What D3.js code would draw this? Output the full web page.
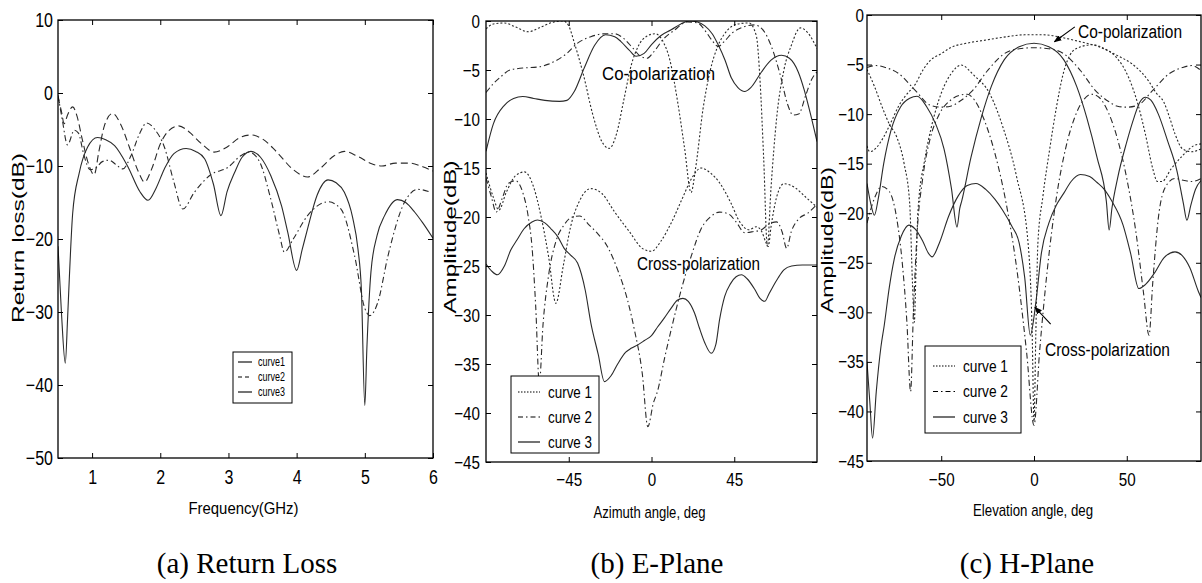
<!DOCTYPE html>
<html>
<head>
<meta charset="utf-8">
<script src="https://cdn.jsdelivr.net/npm/d3@7"></script>
<style>
body { margin: 0; background: #fff; }
text { font-family: "Liberation Sans", Arial, sans-serif; fill: #000; }
text.cap { font-family: "Liberation Serif", "Times New Roman", Tinos, serif; }
</style>
</head>
<body>
<svg id="fig" width="1202" height="583"></svg>
<script>
// ---- (a) Return loss : [GHz, dB]
var rlDash = [[0.5,-0.5],[0.55,-2.5],[0.59,-4.2],[0.64,-3],[0.715,-1.9],[0.78,-3.2],[0.85,-6.1],[0.94,-9.5],[1.03,-11.2],[1.1,-8],[1.18,-4.5],[1.3,-2.8],[1.42,-4.3],[1.55,-7.5],[1.68,-10.8],[1.77,-12.2],[1.87,-10.5],[2.0,-7],[2.12,-5.2],[2.27,-4.5],[2.42,-5.3],[2.6,-6.9],[2.79,-8.1],[2.98,-7.4],[3.15,-6.2],[3.33,-5.75],[3.5,-6.3],[3.7,-8],[3.95,-10.5],[4.16,-11.5],[4.35,-10.3],[4.55,-8.6],[4.7,-8],[4.9,-8.7],[5.1,-9.7],[5.25,-10],[5.45,-9.6],[5.65,-9.6],[5.85,-10.1],[6,-10.7]];
var rlDashDot = [[0.5,-0.3],[0.56,-3.5],[0.64,-7.1],[0.74,-5.1],[0.8,-5.5],[0.88,-8.5],[0.97,-10.5],[1.05,-10.3],[1.15,-9.4],[1.25,-9.2],[1.35,-9.8],[1.45,-10.4],[1.57,-8.6],[1.7,-5.5],[1.8,-4.1],[1.92,-5],[2.06,-7.4],[2.2,-12.2],[2.33,-15.9],[2.5,-13.6],[2.74,-11.2],[2.99,-10.2],[3.18,-8.6],[3.3,-8.1],[3.45,-9.3],[3.62,-14.5],[3.75,-19.5],[3.82,-21.8],[3.95,-20],[4.16,-16.8],[4.46,-14.9],[4.65,-15.9],[4.85,-22.3],[5.0,-29.5],[5.07,-30.5],[5.19,-28.7],[5.34,-22.3],[5.58,-15],[5.78,-13.2],[5.97,-13.6]];
var rlSolid = [[0.5,-21],[0.55,-30],[0.607,-37],[0.64,-31],[0.665,-25.6],[0.715,-16.5],[0.81,-11],[0.935,-7.4],[1.08,-6.1],[1.2,-6.4],[1.33,-7.2],[1.52,-10],[1.7,-13.5],[1.82,-14.7],[1.94,-13],[2.06,-10.4],[2.2,-8.3],[2.38,-7.6],[2.52,-8],[2.65,-9],[2.78,-12.5],[2.89,-16.8],[2.98,-13.5],[3.09,-10.9],[3.2,-8.8],[3.33,-8],[3.47,-8.8],[3.62,-11.3],[3.78,-15.5],[3.87,-19.1],[4.0,-24.3],[4.08,-21.5],[4.16,-18.6],[4.3,-14],[4.46,-11.9],[4.58,-12.3],[4.7,-13.6],[4.82,-17],[4.9,-21.4],[4.95,-27],[5.0,-42.8],[5.03,-35],[5.09,-24.5],[5.18,-19.5],[5.29,-16.8],[5.48,-14.6],[5.6,-15],[5.73,-16.3],[5.85,-17.8],[6,-19.9]];

// ---- (b) E-plane : [deg, dB]
var eCo1 = [[-90,-0.8],[-86,-0.3],[-80,-0.2],[-74,-0.6],[-67,-1.1],[-60,-0.6],[-53,-0.1],[-48,0],[-45,-0.5],[-42,-2.2],[-37,-5.5],[-32,-9.5],[-27,-12.3],[-23,-13],[-19,-11.5],[-15,-8],[-11,-4.5],[-7,-2.5],[-3,-1.6],[2,-1.3],[6,-2],[10,-4],[14,-8],[18,-13],[21.5,-17.5],[24,-15],[28,-9],[32,-5],[36,-2.6],[41,-1],[47,-0.3],[53,-0.2],[57,-1.5],[59,-6],[61,-14],[63,-23],[65,-17],[68,-10],[72,-5],[76,-2.5],[81,-0.7],[85,-1.2],[90,-2.8]];
var eCo2 = [[-90,-7.3],[-86,-6.4],[-82,-5.7],[-77,-5],[-70,-4.8],[-62,-4.7],[-56,-4.4],[-51.5,-4],[-46,-3.3],[-40.5,-2.3],[-33,-1.6],[-25,-1.3],[-20,-1.3],[-15,-1.8],[-10,-2.8],[-6,-3.6],[-2.5,-3.8],[1,-3.2],[6.7,-1.8],[12,-1],[19.5,-0.1],[25,-0.2],[30,-1.2],[33,-2],[36.2,-2.6],[40,-2],[44,-1.2],[50,-0.6],[56,-0.4],[61,-1],[65,-2.5],[70,-5.5],[74,-8.5],[77,-9.6],[80,-9.5],[84,-7.5],[87,-6],[90,-5.2]];
var eCo3 = [[-90,-13.3],[-86,-10.5],[-80,-8.6],[-75,-7.9],[-70,-7.7],[-64,-7.9],[-58,-8.1],[-50,-8.2],[-46,-8.1],[-42,-7.2],[-36.6,-4.8],[-31,-2.5],[-25,-1.4],[-20,-1.6],[-16.6,-2.1],[-12,-3],[-8.4,-3.6],[-4,-3.3],[0,-2.4],[5,-1.5],[10.7,-0.9],[16,-0.3],[20.7,0],[25,-0.1],[29,-0.5],[33,-1.3],[36.2,-2.4],[40,-4],[43.4,-5.8],[47,-6.8],[50.7,-7.2],[54,-6.8],[59.8,-5.2],[65,-4],[70.7,-3.5],[75,-3.8],[79.8,-5.2],[83,-7],[86.2,-9.3],[90,-12.3]];
var eX1 = [[-90,-15.5],[-86,-18],[-83,-19.3],[-79,-17.5],[-74,-15.8],[-69,-15.4],[-64,-17],[-60,-20],[-56,-24],[-52,-28.8],[-48,-25],[-44,-21],[-39,-18.3],[-33,-17.1],[-27,-17.6],[-20,-19.5],[-12,-21.5],[-5,-23.2],[0,-23.5],[5,-22.5],[11,-20.5],[17,-18],[22,-16],[27,-15],[32,-15.5],[37,-16.5],[43,-18.5],[48,-20.5],[53,-21.3],[57,-21],[60,-21.5],[62,-22.5],[63.5,-23],[65,-21],[68,-18],[72,-16.6],[78,-17],[84,-18],[90,-19]];
var eX2 = [[-90,-16],[-87,-18],[-84.5,-19.5],[-81,-18],[-78,-16.6],[-74,-16.3],[-70,-17.5],[-67,-20],[-65,-23],[-63,-29],[-61,-37],[-59,-31],[-56,-26],[-52,-22.5],[-47.5,-20.8],[-43,-20],[-39,-19.9],[-34,-20.8],[-29.3,-21.7],[-24,-23],[-18.4,-25.4],[-13,-28.5],[-9.3,-31.5],[-5,-36],[-2,-41.4],[1,-39],[3.4,-37.7],[7,-34.5],[10.7,-31.5],[16.2,-27.4],[21.6,-24],[27,-21.2],[32,-20],[37,-19.5],[42,-19.7],[46,-20.5],[50.7,-21.6],[55,-21.5],[59.8,-21.3],[64,-20.7],[68,-20.5],[71,-21.5],[73.5,-23.2],[76,-21.5],[80,-20.2],[85,-19.6],[90,-18.7]];
var eX3 = [[-90,-24.8],[-87,-25.5],[-83.8,-25.9],[-80,-25],[-76.6,-23.4],[-73,-22.3],[-69.3,-21.2],[-65,-20.5],[-62,-20.3],[-58,-20.6],[-54.7,-21.2],[-51,-22],[-47.5,-23.2],[-44,-23.9],[-40.2,-24.7],[-36,-27.5],[-33,-30.8],[-29,-34],[-25.6,-36.8],[-22,-36.2],[-18.4,-35],[-14,-33.8],[-11.1,-33.4],[-7,-33],[-3.8,-32.6],[0,-32.1],[3.4,-31.2],[7,-30.3],[10.7,-29.3],[14,-28.5],[17.1,-28.3],[20,-28.6],[23.4,-29.8],[26,-31.3],[28.9,-32.8],[32.5,-33.9],[35,-33],[37,-30.5],[39.8,-28.1],[43,-26.8],[46,-26.1],[48.9,-25.9],[52,-26.3],[56.2,-27.4],[59,-28.3],[61.6,-28.6],[64,-27.8],[68.9,-26.2],[72,-25.4],[76.2,-25],[82,-24.9],[90,-24.9]];

// ---- (c) H-plane : [deg, dB]
var hCo1 = [[-90,-13.2],[-88.5,-13.8],[-85,-13.4],[-81,-12.3],[-77,-10.8],[-73,-9.2],[-69,-8.1],[-64,-7],[-60,-5.6],[-56,-4.6],[-50,-3.9],[-45,-3.3],[-35,-2.8],[-25,-2.5],[-15,-2.2],[-5,-2.0],[5,-2.0],[17,-2.35],[25,-2.7],[35,-3.2],[45,-4.1],[52.6,-4.9],[58,-5.8],[61.5,-6.6],[66,-7.9],[70,-8.8],[73,-10.3],[76,-12],[80,-13.5],[85,-13.8],[90,-13.5]];
var hCo2 = [[-90,-5.3],[-85,-5.1],[-80,-5.3],[-73,-5.9],[-64,-7.6],[-56,-9.1],[-50,-9.3],[-45,-9.2],[-40,-8.7],[-33,-7.6],[-25,-5.6],[-16,-3.9],[-8,-3.4],[0,-3.3],[8,-3.4],[16,-3.9],[25,-5.6],[33,-7.6],[40,-8.7],[45,-9.2],[50,-9.3],[56,-9.1],[64,-7.6],[73,-5.9],[80,-5.3],[85,-5.1],[90,-5.6]];
var hCo3 = [[-90,-17],[-88,-19],[-86,-20.2],[-84,-18.6],[-81,-15],[-77,-11.6],[-72,-9.3],[-67,-8.4],[-63,-8.2],[-58,-9.2],[-53,-11],[-48.5,-13.5],[-44.5,-17.5],[-41.5,-21.4],[-40,-19.5],[-39,-18.8],[-34,-14.4],[-28.5,-10.4],[-23,-7.2],[-16,-4.5],[-8,-3.2],[0,-2.85],[8,-3.2],[16,-4.5],[23,-7.2],[28.5,-10.4],[34,-14.4],[39,-18.8],[40.5,-21.7],[42,-19.5],[45,-16.5],[50,-12.8],[54,-10.3],[57,-8.8],[60.1,-8.3],[63,-8.6],[67,-10],[72,-12.7],[77,-15.7],[80.5,-19],[82.4,-20.7],[84.5,-19.2],[87,-17.6],[90,-16.7]];
var hX1 = [[-90,-5.5],[-86,-7.2],[-82,-9.2],[-78,-11],[-74,-12.3],[-70,-15],[-67,-19],[-65.5,-27],[-64.5,-31],[-63.5,-25],[-62.5,-19.7],[-58.9,-14.6],[-55.3,-11.3],[-50,-7.9],[-44.6,-5.9],[-39.2,-5.05],[-32.6,-6.05],[-23.7,-8],[-16.6,-11.4],[-9.4,-16.3],[-3.2,-23],[-1,-32],[0,-41],[1,-32],[2.1,-23],[4.8,-18.3],[8.4,-13.6],[12,-9.4],[15.5,-6.1],[22.6,-3.4],[31.5,-3],[38,-3.4],[44,-4.2],[51,-6.3],[56,-9],[60,-12],[64,-15.5],[66.5,-16.8],[69,-16.8],[74,-15.5],[80,-14.2],[86,-13.2],[90,-13]];
var hX2 = [[-90,-21],[-86,-18.5],[-82,-17.3],[-78,-17.8],[-74,-20.5],[-71,-25],[-68.5,-31],[-66.5,-38],[-65,-30],[-63,-22],[-60,-16.5],[-56,-12.5],[-51,-10],[-45,-8.6],[-40,-8.1],[-36,-8],[-32,-8.6],[-27,-10.5],[-21,-14],[-15,-19],[-9,-26],[-4,-34],[0,-41.4],[3,-34],[7,-26],[12,-18.5],[17,-13.5],[22,-10.3],[27,-8.5],[31,-8],[35,-8.3],[40,-9.8],[45,-12.5],[50,-16.5],[55,-22],[59,-28],[62,-32.3],[64,-27],[67,-20.5],[71,-17.3],[76,-16.5],[81,-16.7],[85,-16.8],[90,-16.5]];
var hX3 = [[-90,-35],[-88.5,-39],[-87,-42.7],[-85,-38],[-82.5,-33.5],[-80.7,-31.3],[-78,-27.5],[-75.3,-24.6],[-71.5,-22.3],[-67.5,-21.2],[-64,-21.6],[-60,-22.8],[-57,-24],[-54.9,-24.4],[-51,-23],[-46,-20.3],[-41,-18.3],[-36,-17.2],[-31.3,-17],[-26,-17.6],[-21,-18.6],[-16.9,-19.7],[-12,-21.3],[-8,-23],[-5,-26.5],[-2,-32.3],[1,-29],[4,-24],[8,-21],[12,-19.2],[16,-18],[20,-16.8],[25,-16.1],[30,-16.3],[34,-16.9],[37.4,-17.5],[42,-18.8],[48,-21.2],[52,-24],[56.5,-27.6],[60,-27.2],[65.4,-25.9],[70,-24.5],[76,-23.9],[80,-24.3],[84,-25.5],[88.6,-27.9],[90,-28.5]];

// ---- ticks / labels
var rlXTicks = [1, 2, 3, 4, 5, 6];
var rlYTicks = [10, 0, -10, -20, -30, -40, -50];
var eXTicks = [-45, 0, 45];
var hXTicks = [-50, 0, 50];
var ampYTicks = [0, -5, -10, -15, -20, -25, -30, -35, -40, -45];
var rlLegend = ["curve1", "curve2", "curve3"];
var patLegend = ["curve 1", "curve 2", "curve 3"];

var DOT = "2,2", DASHDOT = "6,3,1.5,3", DASH = "7,4";

var svg = d3.select("#fig");

// matlab-ish narrow lettering: squeeze each label by a factor
function condense(sel, k) {
  sel.each(function() {
    var w = this.getComputedTextLength();
    d3.select(this).attr("textLength", w * k).attr("lengthAdjust", "spacingAndGlyphs");
  });
}

function drawPanel(p) {
  var x = d3.scaleLinear().domain(p.xDom).range([p.left, p.right]);
  var y = d3.scaleLinear().domain(p.yDom).range([p.bottom, p.top]);
  var g = svg.append("g");

  g.append("clipPath").attr("id", "clip" + p.id)
    .append("rect").attr("x", p.left).attr("y", p.top)
    .attr("width", p.right - p.left).attr("height", p.bottom - p.top);

  var line = d3.line().x(d => x(d[0])).y(d => y(d[1])).curve(d3.curveMonotoneX);

  var curves = g.append("g").attr("clip-path", "url(#clip" + p.id + ")");
  p.series.forEach(function(s) {
    curves.append("path").datum(s.data)
      .attr("d", line)
      .attr("fill", "none")
      .attr("stroke", "#2a2a2a")
      .attr("stroke-width", 1.1)
      .attr("stroke-dasharray", s.dash);
  });

  // axes: labels outside, ticks inward on all four sides (matlab box)
  var fmt = d3.format("d");
  var bottomAxis = d3.axisBottom(x).tickValues(p.xTicks).tickSize(-5).tickPadding(p.xPad).tickFormat(fmt);
  var leftAxis = d3.axisLeft(y).tickValues(p.yTicks).tickSize(-5).tickPadding(p.yPad).tickFormat(fmt);
  var topAxis = d3.axisTop(x).tickValues(p.xTicks).tickSize(-5).tickFormat("");
  var rightAxis = d3.axisRight(y).tickValues(p.yTicks).tickSize(-5).tickFormat("");

  var ax = [
    g.append("g").attr("transform", `translate(0,${p.bottom})`).call(bottomAxis),
    g.append("g").attr("transform", `translate(${p.left},0)`).call(leftAxis),
    g.append("g").attr("transform", `translate(0,${p.top})`).call(topAxis),
    g.append("g").attr("transform", `translate(${p.right},0)`).call(rightAxis)
  ];
  ax.forEach(function(a) {
    a.select(".domain").remove();
    a.selectAll("line").attr("stroke", "#000");
    a.selectAll("text").attr("font-family", null)
      .style("font-family", '"Liberation Sans", Arial, sans-serif')
      .style("font-size", p.tickFont + "px");
  });
  ax[0].selectAll("text").attr("dy", "0.71em");
  condense(ax[0].selectAll("text"), 0.8);
  condense(ax[1].selectAll("text"), 0.8);

  g.append("rect").attr("x", p.left).attr("y", p.top)
    .attr("width", p.right - p.left).attr("height", p.bottom - p.top)
    .attr("fill", "none").attr("stroke", "#000").attr("stroke-width", 1.3);

  // axis titles
  g.append("text").attr("x", (p.left + p.right) / 2 + p.xLabDx).attr("y", p.xLabY)
    .attr("text-anchor", "middle").style("font-size", "17px")
    .attr("textLength", p.xLabLen).attr("lengthAdjust", "spacingAndGlyphs")
    .text(p.xLabel);
  g.append("text")
    .attr("transform", `translate(${p.yLabX},${p.yLabY}) rotate(-90)`)
    .attr("text-anchor", "middle").style("font-size", "17px")
    .attr("textLength", p.yLabLen).attr("lengthAdjust", "spacingAndGlyphs")
    .text(p.yLabel);

  // caption (times, natural width)
  svg.append("text").attr("class", "cap")
    .attr("x", p.capX).attr("y", 573).attr("text-anchor", "middle")
    .style("font-size", "29px")
    .text(p.caption);

  // legend
  var L = p.legend;
  var lg = g.append("g");
  lg.append("rect").attr("x", L.x).attr("y", L.y).attr("width", L.w).attr("height", L.h)
    .attr("fill", "#fff").attr("stroke", "#000").attr("stroke-width", 1);
  L.names.forEach(function(n, i) {
    var yy = L.y + L.first + i * L.step;
    lg.append("line").attr("x1", L.x + L.l0).attr("x2", L.x + L.l1)
      .attr("y1", yy).attr("y2", yy)
      .attr("stroke", "#000").attr("stroke-width", 1.1)
      .attr("stroke-dasharray", L.dashes[i]);
    lg.append("text").attr("x", L.x + L.tx).attr("y", yy).attr("dy", "0.35em")
      .style("font-size", L.font + "px")
      .attr("textLength", L.tLen).attr("lengthAdjust", "spacingAndGlyphs")
      .text(n);
  });

  return { x: x, y: y, g: g };
}

var pa = drawPanel({
  id: "a", left: 58, right: 433, top: 20, bottom: 458,
  xDom: [0.5, 6], yDom: [-50, 10], xTicks: rlXTicks, yTicks: rlYTicks,
  tickFont: 20, yPad: 5, xPad: 12,
  series: [
    { data: rlDash, dash: DASH },
    { data: rlDashDot, dash: DASHDOT },
    { data: rlSolid, dash: null }
  ],
  xLabel: "Frequency(GHz)", xLabY: 514, xLabLen: 110, xLabDx: -2,
  yLabel: "Return loss(dB)", yLabX: 24, yLabY: 238, yLabLen: 170,
  caption: "(a) Return Loss", capX: 247,
  legend: { x: 233, y: 352, w: 59, h: 51, first: 10, step: 15, l0: 5, l1: 19, tx: 25, font: 12, tLen: 27,
            names: rlLegend, dashes: [null, "4,3", null] }
});

var pb = drawPanel({
  id: "b", left: 486, right: 817, top: 21, bottom: 462,
  xDom: [-90, 90], yDom: [-45, 0], xTicks: eXTicks, yTicks: ampYTicks,
  tickFont: 19, yPad: 6, xPad: 11,
  series: [
    { data: eCo1, dash: DOT }, { data: eCo2, dash: DASHDOT }, { data: eCo3, dash: null },
    { data: eX1, dash: DOT }, { data: eX2, dash: DASHDOT }, { data: eX3, dash: null }
  ],
  xLabel: "Azimuth angle, deg", xLabY: 518, xLabLen: 112, xLabDx: -2,
  yLabel: "Amplitude(dB)", yLabX: 456, yLabY: 237, yLabLen: 153,
  caption: "(b) E-Plane", capX: 657,
  legend: { x: 511, y: 376, w: 88, h: 77, first: 16, step: 25, l0: 7, l1: 29, tx: 37, font: 17, tLen: 44,
            names: patLegend, dashes: ["1.5,1.5", "5,3,1.5,3", null] }
});

var pc = drawPanel({
  id: "c", left: 867, right: 1201, top: 15, bottom: 461,
  xDom: [-90, 90], yDom: [-45, 0], xTicks: hXTicks, yTicks: ampYTicks,
  tickFont: 19, yPad: 3, xPad: 12,
  series: [
    { data: hCo1, dash: DOT }, { data: hCo2, dash: DASHDOT }, { data: hCo3, dash: null },
    { data: hX1, dash: DOT }, { data: hX2, dash: DASHDOT }, { data: hX3, dash: null }
  ],
  xLabel: "Elevation angle, deg", xLabY: 516, xLabLen: 120, xLabDx: -1,
  yLabel: "Amplitude(dB)", yLabX: 833, yLabY: 240, yLabLen: 146,
  caption: "(c) H-Plane", capX: 1027,
  legend: { x: 925, y: 346, w: 96, h: 87, first: 20, step: 25.5, l0: 8, l1: 30, tx: 38, font: 17, tLen: 45,
            names: patLegend, dashes: ["1.5,1.5", "5,3,1.5,3", null] }
});

// annotations
function note(g, x, y, txt, len) {
  g.append("text").attr("x", x).attr("y", y).style("font-size", "18px")
    .attr("textLength", len).attr("lengthAdjust", "spacingAndGlyphs").text(txt);
}
note(pb.g, 602, 80, "Co-polarization", 113);
note(pb.g, 637, 270, "Cross-polarization", 123);
note(pc.g, 1078, 38, "Co-polarization", 104);
note(pc.g, 1045, 356, "Cross-polarization", 125);

svg.append("defs").append("marker").attr("id", "arr")
  .attr("viewBox", "0 0 10 10").attr("refX", 9).attr("refY", 5)
  .attr("markerWidth", 7).attr("markerHeight", 7).attr("orient", "auto")
  .append("path").attr("d", "M0,1 L10,5 L0,9 Z").attr("fill", "#000");

function arrow(p, a, b) {
  svg.append("line").attr("x1", p.x(a[0])).attr("y1", p.y(a[1]))
    .attr("x2", p.x(b[0])).attr("y2", p.y(b[1]))
    .attr("stroke", "#000").attr("stroke-width", 1.1).attr("marker-end", "url(#arr)");
}
arrow(pc, [22, -1.2], [11, -2.7]);
arrow(pc, [9, -31.2], [0.5, -29.5]);
</script>
</body>
</html>
